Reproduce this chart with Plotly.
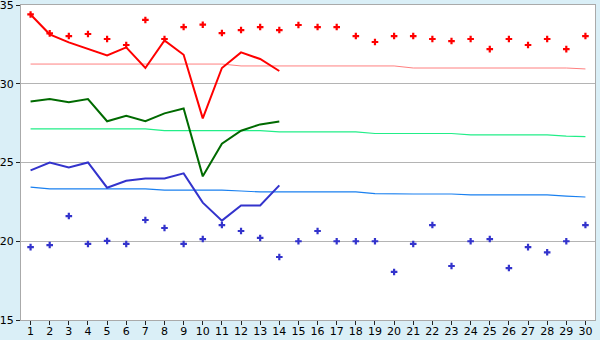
import plotly.graph_objects as go

days = list(range(1, 31))
tick_labels = [str(d) for d in days]
y_ticks = [15, 20, 25, 30, 35]

red_points = [34.4, 33.2, 33.03, 33.16, 32.84, 32.46, 34.05, 32.84, 33.6, 33.75,
              33.22, 33.41, 33.6, 33.41, 33.73, 33.6, 33.6, 33.03, 32.65, 33.03,
              33.03, 32.84, 32.71, 32.84, 32.2, 32.84, 32.46, 32.84, 32.2, 33.03]
red_line = [34.4, 33.14, 32.63, 32.2, 31.8, 32.31, 31.0, 32.75, 31.84, 27.8,
            31.0, 31.99, 31.57, 30.81]
red_normal = [31.25] * 11 + [31.13] * 9 + [31.0] * 9 + [30.94]

green_line = [28.88, 29.03, 28.82, 29.03, 27.62, 27.97, 27.62, 28.12, 28.43, 24.12,
              26.19, 27.02, 27.42, 27.61]
green_normal = [27.13] * 7 + [27.02] * 6 + [26.95] * 5 + [26.84] * 5 + [26.75] * 5 + [26.68, 26.64]

blue_line = [24.5, 25.0, 24.69, 25.0, 23.4, 23.84, 23.99, 23.99, 24.31, 22.45,
             21.31, 22.27, 22.27, 23.55]
blue_normal = [23.44, 23.32, 23.32, 23.32, 23.32, 23.32, 23.32, 23.25, 23.25, 23.25,
               23.25, 23.19, 23.13, 23.13, 23.13, 23.13, 23.13, 23.13, 23.03, 23.0,
               23.0, 23.0, 23.0, 22.94, 22.94, 22.94, 22.94, 22.94, 22.87, 22.81]
blue_points = [19.63, 19.76, 21.6, 19.83, 20.02, 19.83, 21.35, 20.84, 19.83, 20.14,
               21.03, 20.65, 20.21, 19.0, 20.0, 20.65, 20.0, 20.0, 20.0, 18.05,
               19.83, 21.03, 18.43, 20.0, 20.14, 18.3, 19.63, 19.3, 20.0, 21.03]

fig = go.Figure()
fig.add_trace(go.Scatter(x=days, y=red_normal, mode="lines",
                         line=dict(color="#ff8080", width=1)))
fig.add_trace(go.Scatter(x=days, y=green_normal, mode="lines",
                         line=dict(color="#22ee88", width=1.2)))
fig.add_trace(go.Scatter(x=days, y=blue_normal, mode="lines",
                         line=dict(color="#1a80f0", width=1.2)))
fig.add_trace(go.Scatter(x=days, y=red_points, mode="markers",
                         marker=dict(symbol="cross", size=5.5, color="#ff0000")))
fig.add_trace(go.Scatter(x=days, y=blue_points, mode="markers",
                         marker=dict(symbol="cross", size=5.5, color="#3333cc")))
fig.add_trace(go.Scatter(x=days[:14], y=red_line, mode="lines",
                         line=dict(color="#ff0000", width=2)))
fig.add_trace(go.Scatter(x=days[:14], y=green_line, mode="lines",
                         line=dict(color="#006a00", width=2)))
fig.add_trace(go.Scatter(x=days[:14], y=blue_line, mode="lines",
                         line=dict(color="#3333cc", width=2)))

fig.update_layout(
    width=600, height=340,
    margin=dict(l=21, r=5, t=5, b=20),
    paper_bgcolor="#daeff7",
    plot_bgcolor="#ffffff",
    showlegend=False,
    font=dict(family="DejaVu Sans", size=11, color="#000000"),
)
fig.update_xaxes(range=[0.5, 30.5], tickvals=days, ticktext=tick_labels,
                 showgrid=False, zeroline=False, automargin=False,
                 showline=True, linecolor="#aaaaaa", linewidth=1, mirror=True,
                 ticks="outside", ticklen=4, tickcolor="#222222",
                 ticklabelstandoff=-3, ticklabeloverflow="allow")
fig.update_yaxes(range=[15, 35.0001], tickvals=y_ticks,
                 ticktext=[str(v) for v in y_ticks],
                 showgrid=True, gridcolor="#b4b4b4",
                 gridwidth=1, zeroline=False, automargin=False,
                 showline=True, linecolor="#aaaaaa", linewidth=1, mirror=True,
                 ticks="outside", ticklen=4, tickcolor="#222222",
                 ticklabeloverflow="allow")

fig.write_html("out.html")
